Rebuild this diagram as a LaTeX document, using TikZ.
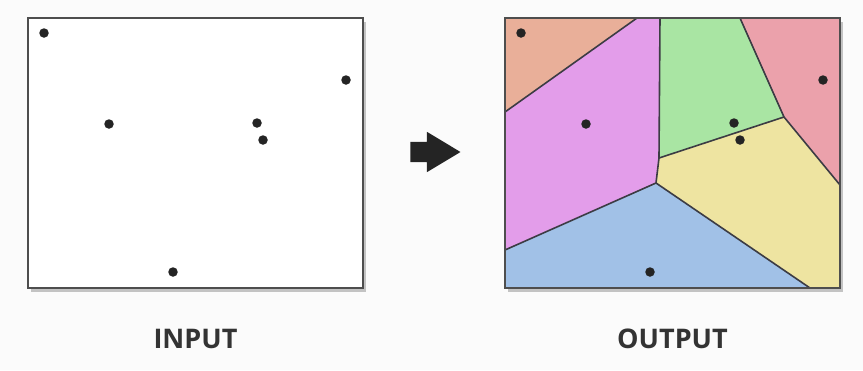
\documentclass[tikz,border=0pt]{standalone}
\usepackage{fontspec}
\setsansfont{Open Sans}
\usetikzlibrary{shapes.arrows, shadows, positioning}

\definecolor{bgcol}{HTML}{FBFBFB}
\definecolor{framecol}{HTML}{4E4E4E}
\definecolor{sitecol}{HTML}{242424}
\definecolor{edgecol}{HTML}{3C3C44}
\definecolor{cellorange}{HTML}{E9AF99}
\definecolor{cellviolet}{HTML}{E39DEA}
\definecolor{cellgreen}{HTML}{A9E5A3}
\definecolor{cellred}{HTML}{EBA1AB}
\definecolor{cellyellow}{HTML}{EEE4A1}
\definecolor{cellblue}{HTML}{A1C1E7}

\begin{document}
\begin{tikzpicture}[x=1pt, y=-1pt,
        panel/.style={draw=framecol, line width=2pt, fill=white, rectangle, inner sep=0pt, outer sep=0pt,
            minimum width=335pt, minimum height=270pt,
            drop shadow={shadow xshift=3pt, shadow yshift=-4pt, opacity=0.22, fill=black}},
        frame/.style={draw=framecol, line width=2pt},
        site/.style={circle, fill=sitecol, inner sep=0pt, minimum size=9.5pt},
        edge/.style={draw=edgecol, line width=1.6pt, line join=round},
        caption/.style={font=\sffamily\bfseries\fontsize{27}{27}\selectfont, text=black!80, inner sep=0pt},
        bigarrow/.style={single arrow, fill=sitecol, inner xsep=0pt, inner ysep=10pt, minimum height=50pt,
            single arrow head extend=10pt, single arrow tip angle=62}]

        % background and page size
        \fill[bgcol] (0,0) rectangle (863,370);
        \useasboundingbox (0,0) rectangle (863,370);

        % panels
        \node [panel] (input) at (195.5,153) {};
        \node [panel, right=142pt of input] (output) {};

        % voronoi corners
        \coordinate (tA) at (637,18);
        \coordinate (tB) at (660,18);
        \coordinate (tC) at (740,18);
        \coordinate (lA) at (505,112);
        \coordinate (lB) at (505,250);
        \coordinate (rA) at (840,185);
        \coordinate (bA) at (810,288);
        \coordinate (v1) at (659,158);
        \coordinate (v2) at (656,183);
        \coordinate (v3) at (784,117);

        % cells
        \fill[cellorange] (output.north west) -- (tA) -- (lA) -- cycle;
        \fill[cellviolet] (tA) -- (tB) -- (v1) -- (v2) -- (lB) -- (lA) -- cycle;
        \fill[cellgreen] (tB) -- (tC) -- (v3) -- (v1) -- cycle;
        \fill[cellred] (tC) -- (output.north east) -- (rA) -- (v3) -- cycle;
        \fill[cellyellow] (v1) -- (v3) -- (rA) -- (output.south east) -- (bA) -- (v2) -- cycle;
        \fill[cellblue] (lB) -- (v2) -- (bA) -- (output.south west) -- cycle;

        % cell borders
        \path [edge] (tA) -- (lA);
        \path [edge] (tB) -- (v1) -- (v2) -- (lB);
        \path [edge] (tC) -- (v3) -- (rA);
        \path [edge] (v1) -- (v3);
        \path [edge] (v2) -- (bA);
        \draw [frame] (output.north west) rectangle (output.south east);

        % sites
        \foreach \i/\px/\py in {1/44/33, 2/109/124, 3/257/123, 4/263/140, 5/346/80, 6/173/272} {
            \node [site] (in\i) at (\px,\py) {};
            \node [site] (out\i) at (\px+477,\py) {};
        }

        % arrow and captions
        \node [bigarrow] (step) at (427,152) {};
        \node [caption, below=60pt of input.south, anchor=base] (inlabel) {INPUT};
        \node [caption, below=60pt of output.south, anchor=base] (outlabel) {OUTPUT};
    \end{tikzpicture}
\end{document}
